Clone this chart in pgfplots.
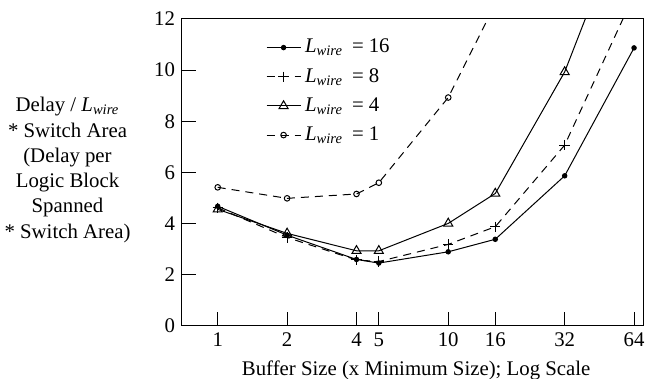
\documentclass[border=0pt]{standalone}
\usepackage{pgfplots}
\pgfplotsset{compat=1.18}
\usepackage{fontspec}
\setmainfont{Liberation Serif}
\newcommand{\lw}[1]{\textit{L}\textsubscript{\textit{wire}}\hspace{4.5pt}=\hspace{2.5pt}#1}
\begin{document}
\begin{tikzpicture}
\useasboundingbox (-91pt,-26.5pt) rectangle (232.5pt,163pt);
\begin{axis}[
  scale only axis,
  width=230.5pt, height=153.5pt,
  xmode=log, log basis x=2,
  xmin=0.7, xmax=70,
  ymin=0, ymax=12,
  xtick={1,2,4,5,10,16,32,64},
  xticklabels={1,2,4,5,10,16,32,64},
  ytick={0,2,4,6,8,10,12},
  tick align=inside,
  xtick pos=bottom, ytick pos=left,
  major tick length=7pt,
  minor tick num=0,
  tick style={black, line width=0.5pt},
  axis line style={line width=0.5pt},
  /pgf/number format/assume math mode=true,
  font=\fontsize{10.4}{12.5}\selectfont,
  xlabel={Buffer Size (x Minimum Size); Log Scale},
  xlabel style={at={(axis description cs:0.508,0)}, anchor=base, yshift=-24.5pt},
  legend style={draw=none, fill=none, at={(0.177,0.955)}, anchor=north west,
    row sep=2.2pt, font=\fontsize{10.4}{12.5}\selectfont, inner sep=1pt},
  legend cell align=left,
  every axis plot/.append style={line width=0.5pt, black},
]
\addplot[mark=*, mark size=1.1pt] coordinates {
  (1,4.68) (2,3.55) (4,2.6) (5,2.46) (10,2.9) (16,3.39) (32,5.87) (64,10.87)};
\addlegendentry{\lw{16}}
\addplot[dash pattern=on 4pt off 3pt, mark=+, mark size=2.6pt, mark options={solid}] coordinates {
  (1,4.62) (2,3.46) (4,2.58) (5,2.52) (10,3.19) (16,3.88) (32,7.07) (64,12.94)};
\addlegendentry{\lw{8}}
\addplot[mark=triangle, mark size=2.6pt, mark options={solid}] coordinates {
  (1,4.56) (2,3.62) (4,2.94) (5,2.94) (10,4.01) (16,5.18) (32,9.93) (64,16.9)};
\addlegendentry{\lw{4}}
\addplot[dash pattern=on 4pt off 3pt, mark=o, mark size=1.4pt, mark options={solid}] coordinates {
  (1,5.42) (2,4.99) (4,5.16) (5,5.6) (10,8.93) (16,12.58)};
\addlegendentry{\lw{1}}
\end{axis}
\node[align=center, font=\fontsize{10.4}{12.65}\selectfont] at (-57.25pt,78pt)
  {Delay / \textit{L}\textsubscript{\textit{wire}}\\* Switch Area\\(Delay per\\Logic Block\\Spanned\\* Switch Area)};
\end{tikzpicture}
\end{document}
